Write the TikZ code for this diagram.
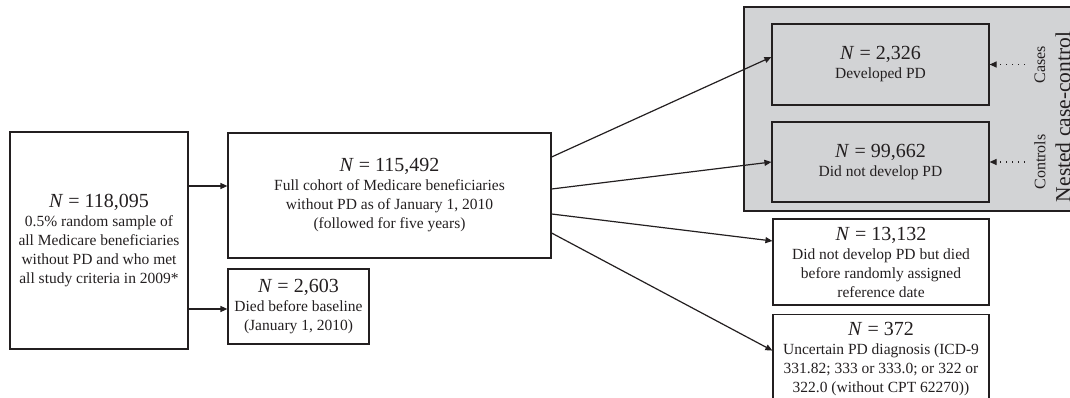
\documentclass[tikz,border=0pt]{standalone}
\usepackage{fontspec}
\setmainfont{Liberation Serif}
\usetikzlibrary{arrows.meta}
\definecolor{boxgray}{RGB}{210,211,213}
\definecolor{ink}{RGB}{35,31,32}
\newcommand{\Nlab}[1]{{\fontsize{20}{19}\selectfont\textit{N} = #1}}
\begin{document}
\begin{tikzpicture}[x=1pt,y=-1pt,
  box/.style={draw=ink,line width=1.2pt,inner sep=0pt,align=center,text=ink,
    font=\fontsize{15.5}{19}\selectfont},
  arr/.style={draw=ink,line width=1.2pt,-{Triangle[length=7pt,width=6pt]}},
  dotarr/.style={draw=ink,line width=1.2pt,dash pattern=on 1pt off 5pt,-{Triangle[length=7pt,width=6pt]}},
  side/.style={text=ink,rotate=90,inner sep=0pt}]
\useasboundingbox (0,0) rectangle (1070,398);
% container
\node[draw=ink,line width=1.2pt,fill=boxgray,minimum width=331pt,minimum height=204pt,inner sep=0pt] (nest) at (909.5,109) {};
% boxes
\node[box,minimum width=178pt,minimum height=217pt] (b1) at (99,240.5)
  {\Nlab{118,095}\\0.5\% random sample of\\all Medicare beneficiaries\\without PD and who met\\all study criteria in 2009*};
\node[box,minimum width=323pt,minimum height=125pt] (b2) at (389.5,195.5)
  {\Nlab{115,492}\\Full cohort of Medicare beneficiaries\\without PD as of January 1, 2010\\(followed for five years)};
\node[box,minimum width=141pt,minimum height=75pt] (b3) at (298.5,306.5)
  {\Nlab{2,603}\\Died before baseline\\(January 1, 2010)};
\node[box,fill=boxgray,minimum width=217pt,minimum height=81pt] (cs) at (880.5,64.5)
  {\Nlab{2,326}\\Developed PD};
\node[box,fill=boxgray,minimum width=217pt,minimum height=80pt] (ct) at (880.5,162)
  {\Nlab{99,662}\\Did not develop PD};
\node[box,minimum width=216pt,minimum height=86pt] (dd) at (881,262)
  {\Nlab{13,132}\\Did not develop PD but died\\before randomly assigned\\reference date};
\node[box,minimum width=216pt,minimum height=88pt,anchor=north] (un) at (881,314)
  {\Nlab{372}\\Uncertain PD diagnosis (ICD-9\\331.82; 333 or 333.0; or 322 or\\322.0 (without CPT 62270))};
% side labels
\node[side,font=\fontsize{16}{18}\selectfont] (lc) at (1040,64.5) {Cases};
\node[side,font=\fontsize{16}{18}\selectfont] (lt) at (1040,162) {Controls};
\node[side,font=\fontsize{21.5}{24}\selectfont] (ln) at (1063,117) {Nested case-control};
% arrows
\draw[arr] ([yshift=54.5pt]b1.east) coordinate (a1) -- (a1 -| b2.west);
\draw[arr] ([yshift=-68.5pt]b1.east) coordinate (a2) -- (a2 -| b3.west);
\draw[arr] ([yshift=38.5pt]b2.east) -- ([yshift=7.5pt]cs.west);
\draw[arr] ([yshift=6.5pt]b2.east) -- (ct.west);
\draw[arr] ([yshift=-18.5pt]b2.east) -- ([yshift=21pt]dd.west);
\draw[arr] ([yshift=-37.5pt]b2.east) -- ([yshift=8pt]un.west);
\coordinate (dc) at (1025,64.5);
\coordinate (dt) at (1025,162);
\draw[dotarr] (dc) -- (cs.east);
\draw[dotarr] (dt) -- (ct.east);
\end{tikzpicture}
\end{document}
